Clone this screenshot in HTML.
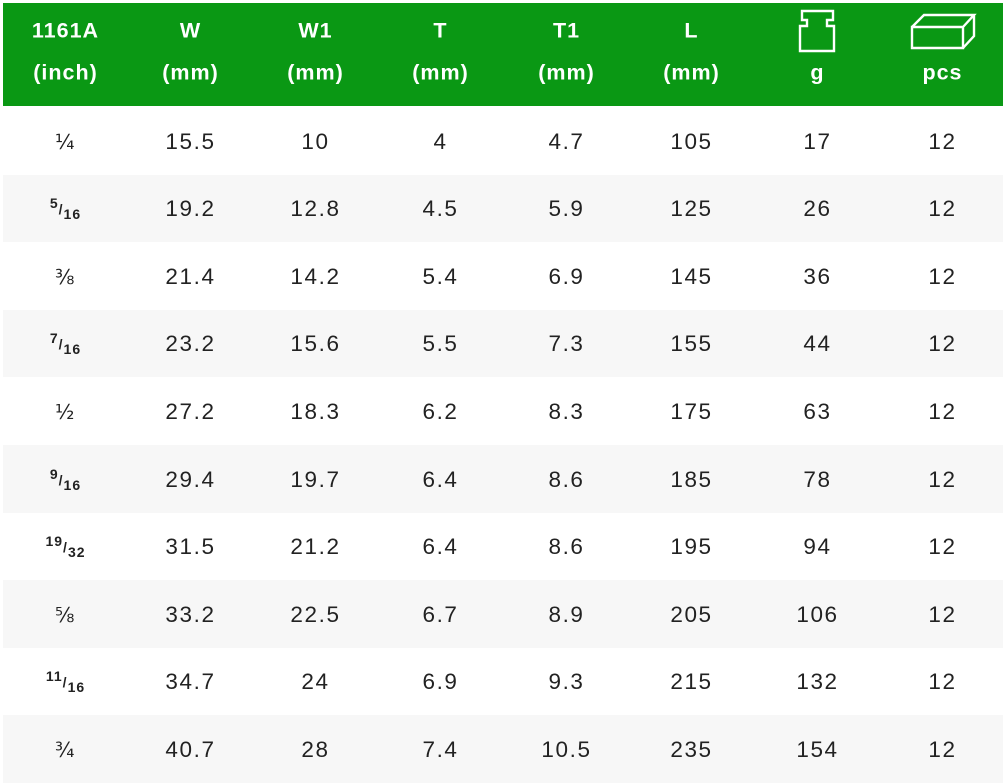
<!DOCTYPE html>
<html><head><meta charset="utf-8"><style>
body{margin:0;width:1006px;height:778px;background:#fff;overflow:hidden;font-family:"Liberation Sans",sans-serif;position:relative}
.hdr{position:absolute;left:3px;top:3px;width:1000px;height:103px;background:#0a9814}
.row{position:absolute;left:3px;width:1000px;height:67.6px}
.alt{background:#f7f7f7}
.c{position:absolute;width:125px;text-align:center;transform:translateY(-50%)}
.h{color:#fff;font-weight:bold;font-size:21.5px;letter-spacing:1px}
.b{color:#222;font-size:22.5px;letter-spacing:1.6px}
.f{color:#222;font-size:14px;font-weight:bold;letter-spacing:1px}
</style></head><body>
<div class="hdr"></div>
<svg style="position:absolute;left:0;top:0" width="1006" height="106">
<path d="M802 11h31v9h-6v6h7v25h-34v-25h7v-6h-5z" fill="none" stroke="#fff" stroke-width="2.4"/>
<path d="M912 27h51v21h-51z M912 27l12-12h50l-11 12 M974 15v21l-11 12" fill="none" stroke="#fff" stroke-width="2.4"/>
</svg>
<div id="t"></div>
<script>
var cx=[65,190,315,440,566,691,817,942];
var h1=["1161A","W","W1","T","T1","L","",""],h2=["(inch)","(mm)","(mm)","(mm)","(mm)","(mm)","g","pcs"];
var d=[["¼","15.5","10","4","4.7","105","17","12"],["5/16","19.2","12.8","4.5","5.9","125","26","12"],["⅜","21.4","14.2","5.4","6.9","145","36","12"],["7/16","23.2","15.6","5.5","7.3","155","44","12"],["½","27.2","18.3","6.2","8.3","175","63","12"],["9/16","29.4","19.7","6.4","8.6","185","78","12"],["19/32","31.5","21.2","6.4","8.6","195","94","12"],["⅝","33.2","22.5","6.7","8.9","205","106","12"],["11/16","34.7","24","6.9","9.3","215","132","12"],["¾","40.7","28","7.4","10.5","235","154","12"]];
var s="";
for(var i=0;i<8;i++){if(h1[i])s+='<div class="c h" style="left:'+(cx[i]-62)+'px;top:31px">'+h1[i]+'</div>';s+='<div class="c h" style="left:'+(cx[i]-62)+'px;top:73px">'+h2[i]+'</div>';}
for(var r=0;r<10;r++){var y=107+r*67.6;if(r%2)s+='<div class="row alt" style="top:'+y+'px"></div>';var cy=y+34.5;
for(var i=0;i<8;i++){var v=d[r][i];
if(i==0&&v.indexOf("/")>0){var p=v.split("/");v='<span style="position:relative;top:-6px">'+p[0]+'</span>/<span style="position:relative;top:5px">'+p[1]+'</span>';s+='<div class="c f" style="left:'+(cx[i]-62)+'px;top:'+cy+'px">'+v+'</div>';}
else if(i==0)s+='<div class="c b" style="left:'+(cx[i]-62)+'px;top:'+cy+'px;font-family:\'DejaVu Sans\',sans-serif;font-size:20px">'+v+'</div>';
else s+='<div class="c b" style="left:'+(cx[i]-62)+'px;top:'+cy+'px">'+v+'</div>';}}
document.getElementById("t").innerHTML=s;
</script>
</body></html>
